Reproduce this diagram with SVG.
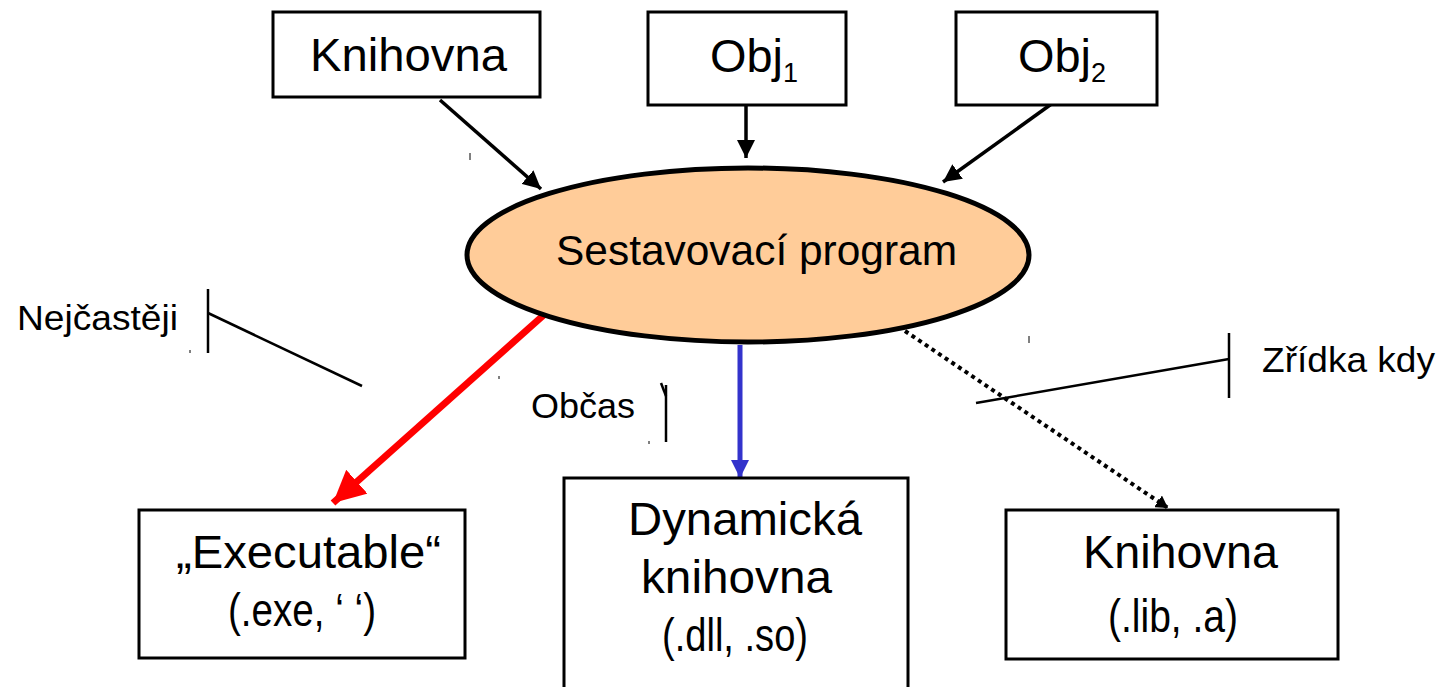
<svg xmlns="http://www.w3.org/2000/svg" width="1441" height="687" viewBox="0 0 1441 687">
<style>
.box{fill:#fff;stroke:#000;stroke-width:3}
.t{font-family:"Liberation Sans",Arial,sans-serif;fill:#000}
.big{font-size:46px}
.mid{font-size:47px}
.lab{font-size:35px}
.con{fill:none;stroke:#000;stroke-width:3.5}
.call{fill:none;stroke:#000;stroke-width:2.5}
</style>
<defs>
<marker id="ah" markerUnits="userSpaceOnUse" markerWidth="20" markerHeight="18" refX="18" refY="9" orient="auto"><path d="M0,0 L18,9 L0,18 Z" fill="#000"/></marker>
<marker id="ahRed" markerUnits="userSpaceOnUse" markerWidth="34" markerHeight="32" refX="32" refY="16" orient="auto"><path d="M0,0 L32,16 L0,32 Z" fill="#f00"/></marker>
<marker id="ahBlue" markerUnits="userSpaceOnUse" markerWidth="20" markerHeight="18" refX="18" refY="9" orient="auto"><path d="M0,0 L18,9 L0,18 Z" fill="#3333CC"/></marker>
<marker id="ahSmall" markerUnits="userSpaceOnUse" markerWidth="14" markerHeight="14" refX="12" refY="7" orient="auto"><path d="M0,0 L12,7 L0,14 Z" fill="#000"/></marker>
</defs>
<rect width="1441" height="687" fill="#fff"/>

<g id="connectors">
<line class="con" x1="440" y1="100" x2="541" y2="189" marker-end="url(#ah)"/>
<line class="con" x1="746" y1="105" x2="746" y2="158" marker-end="url(#ah)"/>
<line class="con" x1="1057" y1="100" x2="943" y2="182" marker-end="url(#ah)"/>
<line x1="546" y1="313" x2="333" y2="503" stroke="#f00" stroke-width="7" marker-end="url(#ahRed)"/>
<line x1="740" y1="345" x2="740" y2="478" stroke="#3333CC" stroke-width="5" marker-end="url(#ahBlue)"/>
<line x1="905" y1="331" x2="1168" y2="508" stroke="#000" stroke-width="4" stroke-dasharray="4 4" marker-end="url(#ahSmall)"/>
</g>

<g id="ellipse-sestavovaci">
<ellipse cx="748" cy="255" rx="281" ry="87" fill="#FFCC99" stroke="#000" stroke-width="5"/>
<text class="t" x="556" y="265" font-size="42" textLength="401" lengthAdjust="spacingAndGlyphs">Sestavovací program</text>
</g>

<g id="knihovna-top">
<rect class="box" x="273" y="12" width="267" height="85"/>
<text class="t big" x="310" y="71" textLength="197" lengthAdjust="spacingAndGlyphs">Knihovna</text>
</g>

<g id="obj1">
<rect class="box" x="648" y="12" width="198" height="93"/>
<text class="t big" x="710" y="72" textLength="73" lengthAdjust="spacingAndGlyphs">Obj</text>
<text class="t" x="783" y="82" font-size="27">1</text>
</g>

<g id="obj2">
<rect class="box" x="956" y="12" width="201" height="93"/>
<text class="t big" x="1018" y="72" textLength="73" lengthAdjust="spacingAndGlyphs">Obj</text>
<text class="t" x="1091" y="82" font-size="27">2</text>
</g>

<g id="executable">
<rect class="box" x="139" y="510" width="326" height="148" stroke-width="3.5"/>
<text class="t big" x="176" y="568" textLength="265" lengthAdjust="spacingAndGlyphs">„Executable“</text>
<text class="t mid" x="228" y="626" textLength="148" lengthAdjust="spacingAndGlyphs">(.exe, ‘ ‘)</text>
</g>

<g id="dynamicka">
<rect class="box" x="564" y="478" width="344" height="215" stroke-width="3.5"/>
<text class="t big" x="628" y="535" textLength="234" lengthAdjust="spacingAndGlyphs">Dynamická</text>
<text class="t big" x="641" y="593" textLength="191" lengthAdjust="spacingAndGlyphs">knihovna</text>
<text class="t mid" x="662" y="651" textLength="146" lengthAdjust="spacingAndGlyphs">(.dll, .so)</text>
</g>

<g id="knihovna-bottom">
<rect class="box" x="1006" y="510" width="332" height="149" stroke-width="3.5"/>
<text class="t big" x="1083" y="568" textLength="195" lengthAdjust="spacingAndGlyphs">Knihovna</text>
<text class="t mid" x="1108" y="632" textLength="130" lengthAdjust="spacingAndGlyphs">(.lib, .a)</text>
</g>

<g id="label-nejcasteji">
<text class="t lab" x="17" y="330" textLength="161" lengthAdjust="spacingAndGlyphs">Nejčastěji</text>
<line class="call" x1="208" y1="289" x2="208" y2="353"/>
<line class="call" x1="208" y1="313" x2="362" y2="386"/>
</g>

<g id="label-obcas">
<text class="t lab" x="531" y="418" textLength="104" lengthAdjust="spacingAndGlyphs">Občas</text>
<line class="call" x1="666" y1="385" x2="666" y2="442"/>
<line class="call" x1="661" y1="383" x2="666" y2="396"/>
</g>

<g id="label-zridka">
<text class="t lab" x="1262" y="372" textLength="173" lengthAdjust="spacingAndGlyphs">Zřídka kdy</text>
<line class="call" x1="1229" y1="333" x2="1229" y2="398"/>
<line class="call" x1="1229" y1="359" x2="976" y2="403"/>
</g>

<g id="specks" stroke="#000" stroke-width="1">
<line x1="470" y1="153" x2="470" y2="160"/>
<line x1="190" y1="350" x2="190" y2="353"/>
<line x1="499" y1="376" x2="499" y2="379"/>
<line x1="649" y1="441" x2="649" y2="444"/>
<line x1="1029" y1="336" x2="1029" y2="343"/>
</g>
</svg>
